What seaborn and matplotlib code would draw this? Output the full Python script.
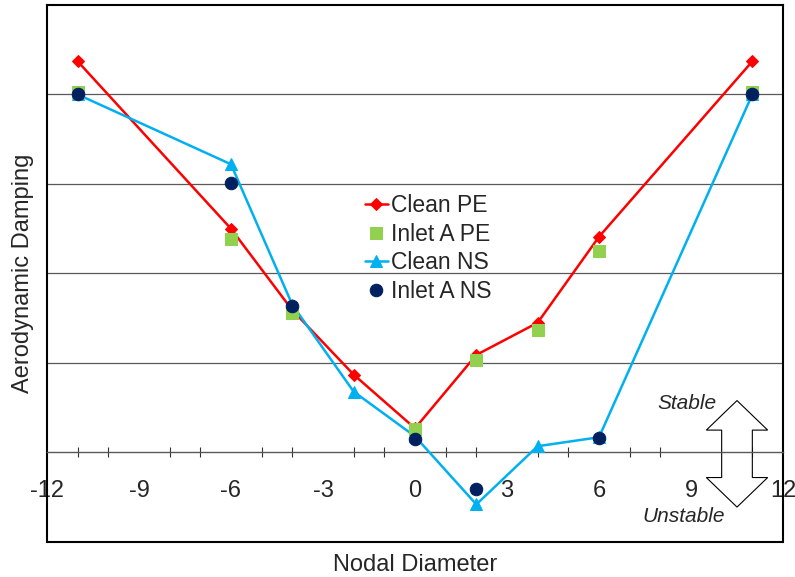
import numpy as np
import pandas as pd
import seaborn as sns
import matplotlib.pyplot as plt
from matplotlib.patches import Polygon

sns.set_style("white")
plt.rcParams['font.family'] = ['Liberation Sans', 'DejaVu Sans']
plt.rcParams['axes.unicode_minus'] = False

# data
nd_clean_pe = [-11, -6, -4, -2, 0, 2, 4, 6, 11]
clean_pe = [4.37, 2.50, 1.59, 0.87, 0.27, 1.09, 1.45, 2.41, 4.37]

nd_inlet_pe = [-11, -6, -4, 0, 2, 4, 6, 11]
inlet_pe = [4.03, 2.38, 1.56, 0.26, 1.03, 1.37, 2.25, 4.03]

nd_clean_ns = [-11, -6, -4, -2, 0, 2, 4, 6, 11]
clean_ns = [4.00, 3.22, 1.65, 0.68, 0.18, -0.58, 0.07, 0.17, 4.00]

nd_inlet_ns = [-11, -6, -4, 0, 2, 6, 11]
inlet_ns = [4.01, 3.01, 1.64, 0.15, -0.41, 0.16, 4.01]

fig = plt.figure(figsize=(7.95, 5.77), dpi=100)
ax = fig.add_axes([0.0591, 0.0607, 0.9258, 0.9307])

# Clean PE: red line + diamonds
sns.lineplot(x=nd_clean_pe, y=clean_pe, ax=ax, color="#FF0000", lw=1.8,
             marker="D", ms=6, mec="#FF0000", label="Clean PE", zorder=3)
# Clean NS: cyan line + triangles
sns.lineplot(x=nd_clean_ns, y=clean_ns, ax=ax, color="#00B0F0", lw=1.8,
             marker="^", ms=8, mec="#00B0F0", label="Clean NS", zorder=3)
# Inlet A PE: green squares only
sns.lineplot(x=nd_inlet_pe, y=inlet_pe, ax=ax, color="#92D050", linestyle="",
             marker="s", ms=8.5, mec="#92D050", label="Inlet A PE", zorder=4)
# Inlet A NS: navy circles only
sns.lineplot(x=nd_inlet_ns, y=inlet_ns, ax=ax, color="#002060", linestyle="",
             marker="o", ms=9, mec="#002060", label="Inlet A NS", zorder=5)

ax.set_xlim(-12, 12)
ax.set_ylim(-1, 5)

# x axis through zero
ax.spines['bottom'].set_position(('data', 0))
ax.spines['bottom'].set_color('#595959')
ax.spines['bottom'].set_linewidth(1.0)
for s in ['top', 'left', 'right']:
    ax.spines[s].set_color('black')
    ax.spines[s].set_linewidth(1.5)
# bottom edge of the frame
ax.plot([0, 1], [0, 0], transform=ax.transAxes, color='black', lw=1.5,
        clip_on=False, zorder=6)

ax.set_xticks(np.arange(-12, 13, 3))
ax.set_xticks(np.arange(-12, 13, 1), minor=True)
ax.tick_params(axis='x', which='major', direction='inout', length=8, width=1.0,
               color='#333333', labelsize=17, pad=16)
ax.tick_params(axis='x', which='minor', direction='inout', length=7, width=0.8,
               color='#333333', bottom=True)
ax.set_yticks([1, 2, 3, 4])
ax.tick_params(axis='y', which='both', left=False, labelleft=False)
ax.yaxis.grid(True, color='#595959', lw=0.9)
ax.xaxis.grid(False)

ax.set_xlabel("Nodal Diameter", fontsize=17)
ax.xaxis.set_label_coords(0.5, -0.022)
ax.set_ylabel("Aerodynamic Damping", fontsize=17, labelpad=9)

# stable / unstable block arrow
arrow = Polygon([(10.5, 0.58), (11.5, 0.25), (11.0, 0.25), (11.0, -0.28),
                 (11.5, -0.28), (10.5, -0.61), (9.5, -0.28), (10.0, -0.28),
                 (10.0, 0.25), (9.5, 0.25)], closed=True, facecolor='white',
                edgecolor='black', lw=0.8, zorder=2)
ax.add_patch(arrow)
ax.text(8.86, 0.55, "Stable", fontsize=15, style='italic', ha='center', va='center')
ax.text(8.75, -0.72, "Unstable", fontsize=15, style='italic', ha='center', va='center')

handles, labels = ax.get_legend_handles_labels()
order = [labels.index(n) for n in ["Clean PE", "Inlet A PE", "Clean NS", "Inlet A NS"]]
ax.legend([handles[i] for i in order], [labels[i] for i in order],
          loc='upper left', bbox_to_anchor=(0.432, 0.648), frameon=False,
          fontsize=16.5, handlelength=1.0, handletextpad=0.15, labelspacing=0.25,
          borderpad=0, borderaxespad=0)

fig.savefig("out.png", dpi=100)
